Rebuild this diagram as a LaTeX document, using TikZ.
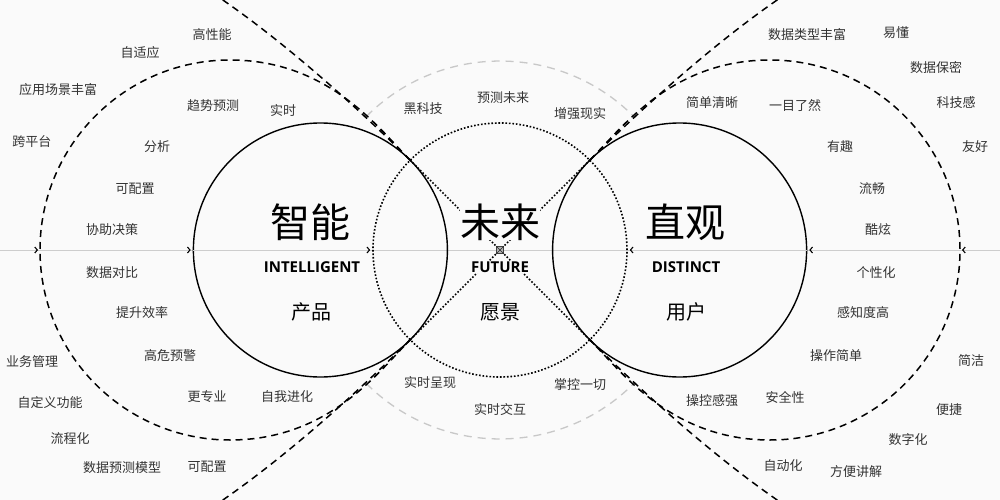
\documentclass[tikz,border=0pt]{standalone}
\usepackage{fontspec}
\newfontfamily\cjk{Noto Sans CJK SC}
\newfontfamily\enfont{Open Sans}
\usetikzlibrary{arrows.meta}

\definecolor{bgcol}{RGB}{250,250,250}
\definecolor{txtcol}{RGB}{51,51,51}
\definecolor{axiscol}{RGB}{205,205,205}
\definecolor{ringcol}{RGB}{200,200,200}

\begin{document}
\begin{tikzpicture}[x=1pt, y=-1pt,
  ring/.style={circle, draw, line width=1.4pt, minimum size=254pt, inner sep=0pt},
  dotring/.style={ring, line width=1.6pt, dash pattern=on 1.6pt off 1.9pt},
  dotline/.style={line width=1.5pt, dash pattern=on 1.6pt off 1.9pt},
  dashline/.style={line width=1.5pt, dash pattern=on 7pt off 5pt},
  greyarc/.style={ringcol, line width=1.3pt, dash pattern=on 8pt off 6pt},
  axis/.style={axiscol, line width=0.8pt, shorten >=2pt,
    -{Straight Barb[length=2.5pt, width=6pt, line width=1.1pt, color=black]}},
  tag/.style={font=\cjk\fontsize{13}{13}\selectfont, text=txtcol, inner sep=1pt},
  title/.style={font=\cjk\fontsize{40}{40}\selectfont, inner sep=0pt, fill=bgcol},
  sub/.style={font=\cjk\fontsize{20}{20}\selectfont, inner sep=1pt},
  eng/.style={font=\enfont\bfseries\fontsize{15}{15}\selectfont, inner sep=1pt, fill=bgcol}]

\useasboundingbox (0,0) rectangle (1000,500);
\fill[bgcol] (0,0) rectangle (1000,500);
\clip (0,0) rectangle (1000,500);

%% tangent points of the X
\coordinate (tl) at (410.2,160.2);
\coordinate (bl) at (410.2,339.8);
\coordinate (tr) at (589.8,160.2);
\coordinate (br) at (589.8,339.8);

%% grey ring, only above and below the X
\draw[greyarc] (366.4,116.4) arc[start angle=225, end angle=315, radius=189];
\draw[greyarc] (366.4,383.6) arc[start angle=135, end angle=45, radius=189];

%% axis
\coordinate (lend) at (0,250);
\coordinate (rend) at (1000,250);
\coordinate (lout) at (40,250);
\coordinate (rout) at (960,250);
\draw[axiscol, line width=0.8pt] (lend) -- (rend);

%% outer dashed curves
\draw[dashline] (tl) .. controls (370,120) and (285,40) .. (205,-12);
\draw[dashline] (bl) .. controls (370,380) and (285,460) .. (205,512);
\draw[dashline] (tr) .. controls (630,120) and (715,40) .. (795,-12);
\draw[dashline] (br) .. controls (630,380) and (715,460) .. (795,512);

%% inner dashed loops
\draw[dashline] (tl) .. controls (380,130.2) and (330,60) .. (230,60)
  .. controls (125.1,60) and (40,145.1) .. (lout)
  .. controls (40,354.9) and (125.1,440) .. (230,440)
  .. controls (330,440) and (380,369.8) .. (bl);
\draw[dashline] (tr) .. controls (620,130.2) and (670,60) .. (770,60)
  .. controls (874.9,60) and (960,145.1) .. (rout)
  .. controls (960,354.9) and (874.9,440) .. (770,440)
  .. controls (670,440) and (620,369.8) .. (br);

%% the X
\draw[dotline] (tl) -- (br);
\draw[dotline] (tr) -- (bl);

%% rings
\node[ring] (prod) at (320.4,250) {};
\node[dotring] (futr) at (500,250) {};
\node[ring] (user) at (679.6,250) {};

\draw[axis] (lend) -- (lout);
\draw[axis] (lout) -- (prod.west);
\draw[axis] (prod.west) -- (futr.west);
\draw[axis] (rend) -- (rout);
\draw[axis] (rout) -- (user.east);
\draw[axis] (user.east) -- (futr.east);

%% titles
\node[title] (zhineng) at (310,222) {智能};
\node[eng] (intel) at (312,267) {INTELLIGENT};
\node[sub] (chanpin) at (311,312) {产品};

\node[title] (weilai) at (500,222) {未来};
\node[eng] (future) at (500,267) {FUTURE};
\node[sub] (yuanjing) at (500,312) {愿景};

\node[title] (zhiguan) at (685,222) {直观};
\node[eng] (distinct) at (686,267) {DISTINCT};
\node[sub] (yonghu) at (686,312) {用户};

%% centre mark
\node[draw=gray!50!black, fill=gray!60, minimum size=7pt, inner sep=0pt] (ctr) at (500,250) {};
\draw[gray!30!black, line width=0.6pt] (ctr.north west) -- (ctr.south east)
  (ctr.north east) -- (ctr.south west);

%% product side
\foreach \x/\y/\lbl [count=\i] in {212/35/高性能, 140/53/自适应, 58/90/应用场景丰富,
  213/106/趋势预测, 283/110/实时, 32/142/跨平台, 157/147/分析, 135/189/可配置,
  112/230/协助决策, 112/273/数据对比, 142/313/提升效率, 170/356/高危预警,
  32/362/业务管理, 50/403/自定义功能, 207/397/更专业, 287/397/自我进化,
  70/439/流程化, 122/468/数据预测模型, 207/467/可配置}
  \node[tag] (pl\i) at (\x,\y) {\lbl};

%% future
\foreach \x/\y/\lbl [count=\i] in {423/109/黑科技, 503/98/预测未来, 580/114/增强现实,
  430/383/实时呈现, 500/410/实时交互, 580/385/掌控一切}
  \node[tag] (fl\i) at (\x,\y) {\lbl};

%% user side
\foreach \x/\y/\lbl [count=\i] in {807/35/数据类型丰富, 896/33/易懂, 936/68/数据保密,
  712/103/简单清晰, 795/106/一目了然, 956/103/科技感, 840/147/有趣, 975/147/友好,
  872/189/流畅, 878/230/酷炫, 876/273/个性化, 863/313/感知度高, 836/356/操作简单,
  971/361/简洁, 712/401/操控感强, 785/397/安全性, 949/410/便捷, 908/440/数字化,
  783/466/自动化, 856/472/方便讲解}
  \node[tag] (ul\i) at (\x,\y) {\lbl};

\end{tikzpicture}
\end{document}
